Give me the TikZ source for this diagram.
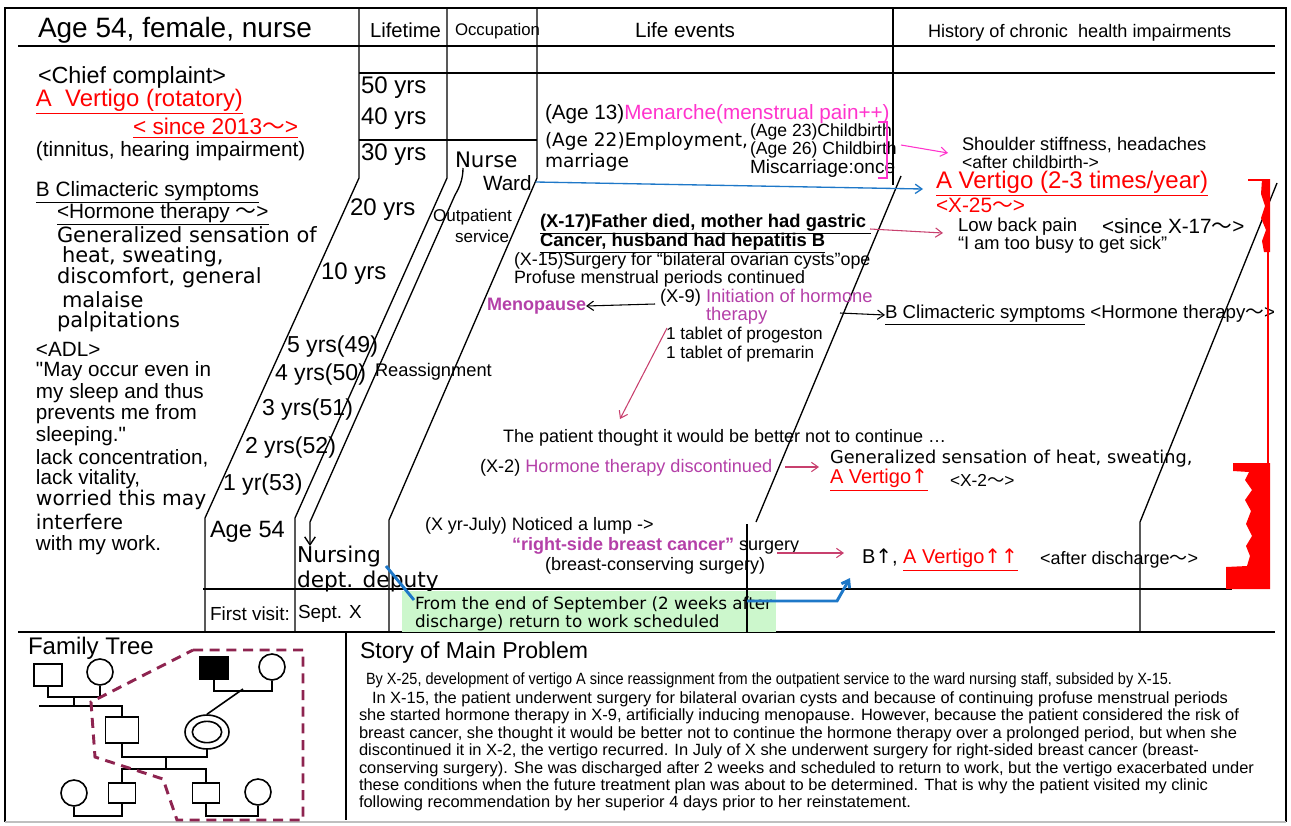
\documentclass[tikz,border=0pt]{standalone}
\usepackage{fontspec}
\setmainfont{Liberation Sans}
\newfontfamily\dv{DejaVu Sans}
\newfontfamily\cjk{Noto Sans CJK JP}
\usepackage{graphicx}
\usetikzlibrary{arrows.meta,shapes.geometric}
\newdimen\pxu \pxu=0.75pt
\newcommand\fs[1]{\fontsize{#1pt}{#1pt}\selectfont}
\newcommand\wv{{\cjk ～}}
\newcommand\uparr{{\dv ↑}}
\newcommand\fitw[2]{\resizebox{#1\pxu}{\height}{#2}}
\definecolor{vred}{HTML}{FF0000}
\definecolor{pinkm}{HTML}{FF33CC}
\definecolor{purp}{HTML}{B440A8}
\definecolor{crim}{HTML}{C8406E}
\definecolor{blu}{HTML}{1E78C8}
\definecolor{grn}{HTML}{CCF7CC}
\definecolor{maroonc}{HTML}{8E2450}
\begin{document}
\begin{tikzpicture}[x=0.75pt,y=-0.75pt,line width=1pt,
  tx/.style={anchor=west,inner sep=0pt,outer sep=0pt,yshift=-1.5pt},
  barb/.style={-{Straight Barb[length=5pt,width=7pt]}},
  crimarr/.style={crim,line width=0.8pt,barb},
  blkarr/.style={black,line width=0.8pt,barb},
  ft/.style={line width=1.2pt},
  sq/.style={draw,line width=1.2pt,rectangle,inner sep=0pt},
  ci/.style={draw,line width=1.2pt,circle,inner sep=0pt,minimum size=19.5pt}]
\useasboundingbox (0,0) rectangle (1291,825);
% frame
\draw[line width=1.8pt] (5,822) -- (5,8) -- (1286,8) -- (1286,822);
\draw[line width=1.8pt,gray!50] (5,822) -- (1286,822);
% header
\draw (18,46) -- (1275,46);
\draw (359,73) -- (1275,73);
\draw (359,140) -- (537,140);
\node[tx,font=\fs{21}] (title) at (38,28) {Age 54, female, nurse};
\node[tx,font=\fs{15.2}] (hlife) at (370,28) {Lifetime};
\node[tx,font=\fs{12.6}] (hocc) at (455,29) {Occupation};
\node[tx,font=\fs{15.5}] (hev) at (635,28) {Life events};
\node[tx,font=\fs{13.6}] (hhist) at (928,31) {History of chronic\ \ health impairments};
% column borders
\draw (359,8) -- (359,178) -- (205,518) -- (205,632);
\draw (447,8) -- (447,178) -- (295,518) -- (295,632);
\draw (537,8) -- (537,178) -- (389,520) -- (389,632);
\draw (893,8) -- (893,185);
\draw (901,176) -- (756,522);
\draw (747,524) -- (747,632);
\draw (1277,183) -- (1140,522) -- (1140,632);
\draw (203,589) -- (1232,589);
\draw (18,632) -- (1275,632);
\draw (346,632) -- (346,820);
% nurse arrow
\draw[-{Straight Barb[length=6pt,width=8pt]}] (463,168) .. controls (463,180) and (459,188) .. (455,195) -- (310,522) -- (310,546);
% left column
\node[tx,font=\fs{17.5}] (cc) at (38,75) {<Chief complaint>};
\node[tx,font=\fs{17.9},vred] (av) at (36,100) {\underline{A\ \ Vertigo (rotatory)}};
\node[tx,font=\fs{17},vred] (since) at (133,126) {\underline{< since 2013\wv>}};
\node[tx,font=\fs{15.6}] (tin) at (36,149) {(tinnitus, hearing impairment)};
\node[tx,font=\fs{15.6}] (bcl) at (36,190) {\underline{B Climacteric symptoms}};
\node[tx,font=\fs{15.6}] (hth) at (57,212) {\underline{<Hormone therapy \wv>}};
\node[tx,font=\dv\fs{15.7}] (g1) at (57,233) {Generalized sensation of};
\node[tx,font=\dv\fs{15.7}] (g2) at (62,255) {heat, sweating,};
\node[tx,font=\dv\fs{15.7}] (g3) at (57,276) {discomfort, general};
\node[tx,font=\dv\fs{15.7}] (g4) at (62,298) {malaise};
\node[tx,font=\dv\fs{15.7}] (g5) at (57,320) {palpitations};
\node[tx,font=\fs{15.5}] (adl) at (36,347) {<ADL>};
\node[tx,font=\fs{15.5}] (a1) at (36,369) {\textquotedbl May occur even in};
\node[tx,font=\fs{15.5}] (a2) at (36,391) {my sleep and thus};
\node[tx,font=\fs{15.5}] (a3) at (36,412) {prevents me from};
\node[tx,font=\fs{15.5}] (a4) at (36,434) {sleeping.\textquotedbl};
\node[tx,font=\fs{15.5}] (a5) at (36,456) {lack concentration,};
\node[tx,font=\fs{15.5}] (a6) at (36,477) {lack vitality,};
\node[tx,font=\dv\fs{15.2}] (a7) at (36,498) {worried this may};
\node[tx,font=\dv\fs{15.2}] (a8) at (36,520) {interfere};
\node[tx,font=\fs{15.5}] (a9) at (36,543) {with my work.};
% lifetime
\node[tx,font=\fs{18}] (y50) at (361,86) {50 yrs};
\node[tx,font=\fs{18}] (y40) at (361,117) {40 yrs};
\node[tx,font=\fs{18}] (y30) at (361,153) {30 yrs};
\node[tx,font=\fs{18}] (y20) at (350,208) {20 yrs};
\node[tx,font=\fs{18}] (y10) at (321,272) {10 yrs};
\node[tx,font=\fs{17.3}] (y5) at (287,345) {5 yrs(49)};
\node[tx,font=\fs{17.3}] (y4) at (275,373) {4 yrs(50)};
\node[tx,font=\fs{17.3}] (y3) at (262,408) {3 yrs(51)};
\node[tx,font=\fs{17.3}] (y2) at (245,446) {2 yrs(52)};
\node[tx,font=\fs{17.3}] (y1) at (223,483) {1 yr(53)};
\node[tx,font=\fs{17.7}] (age) at (210,530) {Age 54};
\node[tx,font=\fs{14.2}] (fv) at (210,612) {First visit:};
\node[tx,font=\fs{14.2}] (sept) at (298,612) {Sept. X};
% occupation
\node[tx,font=\dv\fs{16}] (nurse) at (455,158) {Nurse};
\node[tx,font=\fs{15.5}] (ward) at (483,181) {Ward};
\node[tx,font=\fs{12.8}] (outp) at (433,215) {Outpatient};
\node[tx,font=\fs{12.8}] (serv) at (455,234) {service};
\node[tx,font=\fs{13.7}] (reas) at (375,370) {Reassignment};
\node[tx,font=\dv\fs{16.3}] (nursing) at (297,554) {Nursing};
\node[tx,font=\dv\fs{16.3}] (deputy) at (297,579) {dept. deputy};
% life events
\node[tx,font=\fs{15.5}] (e13) at (545,112) {(Age 13)\textcolor{pinkm}{Menarche(menstrual pain++)}};
\node[tx,font=\dv\fs{13.9}] (e22) at (545,139) {(Age 22)Employment,};
\node[tx,font=\dv\fs{13.9}] (emar) at (545,160) {marriage};
\node[tx,font=\fs{13.2}] (e23) at (750,130) {(Age 23)Childbirth};
\node[tx,font=\fs{13.2}] (e26) at (750,148) {(Age 26) Childbirth};
\node[tx,font=\fs{14.3}] (emis) at (750,167) {Miscarriage:once};
\draw[pinkm,line width=1pt] (878,122) -- (887,122) -- (887,178) -- (878,178);
\coordinate (brk) at (901,145);
\node[tx,font=\fs{13.7}] (sh1) at (962,143) {Shoulder stiffness, headaches};
\node[tx,font=\fs{13.2}] (sh2) at (962,160) {<after childbirth->};
\draw[pinkm,line width=0.8pt,barb] (brk) -- (948,153);
\node[tx,font=\fs{18},vred] (vert2) at (936,182) {\underline{A Vertigo (2-3 times/year)}};
\node[tx,font=\fs{15.6},vred] (x25) at (936,203) {<X-25\wv>};
\draw[blu,line width=1pt,barb] (ward.east) ++(4,-1) -- (923,189);
\node[tx,font=\bfseries\fs{13.8}] (f1) at (540,222) {\underline{(X-17)Father died, mother had gastric }};
\node[tx,font=\bfseries\fs{13.8}] (f2) at (540,241) {\underline{Cancer, husband had hepatitis B}};
\node[tx,font=\fs{14}] (lbp) at (958,225) {Low back pain};
\node[tx,font=\fs{15.5}] (s17) at (1102,224) {<since X-17\wv>};
\node[tx,font=\fs{13.7}] (busy) at (958,243) {“I am too busy to get sick”};
\draw[crimarr] (870,229) -- (943,233);
\node[tx,font=\fs{13.4}] (x15) at (514,259) {(X-15)Surgery for “bilateral ovarian cysts”ope};
\node[tx,font=\fs{13.4}] (prof) at (514,277) {Profuse menstrual periods continued};
\node[tx,font=\bfseries\fs{13.5},purp] (meno) at (487,304) {Menopause};
\node[tx,font=\fs{13.8}] (x9) at (660,296) {(X-9) \textcolor{purp}{Initiation of hormone}};
\node[tx,font=\fs{13.8},purp] (x9b) at (706,314) {therapy};
\draw[blkarr] (655,304) -- (meno.east);
\node[tx,font=\fs{14}] (bcl2) at (885,313) {\underline{B Climacteric symptoms} <Hormone therapy\wv>};
\draw[blkarr] (840,313) -- (bcl2.west);
\node[tx,font=\fs{12.9}] (tab1) at (666,333) {1 tablet of progeston};
\node[tx,font=\fs{12.9}] (tab2) at (666,352) {1 tablet of premarin};
\node[tx,font=\fs{13.5}] (thought) at (503,436) {The patient thought it would be better not to continue …};
\draw[crimarr] (667,328) -- (620,419);
\node[tx,font=\fs{13.6}] (x2) at (480,466) {(X-2) \textcolor{purp}{Hormone therapy discontinued}};
\node[tx,font=\dv\fs{13.3}] (gen2) at (830,457) {Generalized sensation of heat, sweating,};
\node[tx,font=\fs{15},vred] (av2) at (830,478) {\underline{A Vertigo\uparr}};
\node[tx,font=\fs{13}] (x2b) at (950,478) {<X-2\wv>};
\draw[crimarr] (785,467) -- (819,467);
\node[tx,font=\fs{13.5}] (lump) at (425,524) {(X yr-July) Noticed a lump ->};
\node[tx,font=\fs{13.5}] (rbc) at (512,544) {\textcolor{purp}{\bfseries “right-side breast cancer”} surgery};
\node[tx,font=\fs{13.5}] (bcs) at (545,564) {(breast-conserving surgery)};
\node[tx,font=\fs{15}] (bup) at (862,558) {B\uparr, \textcolor{vred}{\underline{A Vertigo\uparr\uparr}}};
\node[tx,font=\fs{13.5}] (adis) at (1040,558) {<after discharge\wv>};
\draw[crimarr] (777,553) -- (844,553);
% green box
\fill[grn] (402,591) rectangle (776,632);
\node[tx,font=\dv\fs{12.6}] (gb1) at (415,603) {From the end of September (2 weeks after};
\node[tx,font=\dv\fs{12.6}] (gb2) at (415,621) {discharge) return to work scheduled};
\draw (747,589) -- (747,632);
\draw[blu,line width=2.2pt] (386,566) -- (414,600);
\draw[blu,line width=2.2pt,-{Straight Barb[length=5pt,width=7pt]}] (747,601) -- (837,601) -- (850,578);
% red graph
\fill[vred] (1262,179) -- (1270,179) -- (1270,252) -- (1264,252) -- (1262,241) -- (1266,230) -- (1261,218) -- (1265,206) -- (1261,194) -- cycle;
\draw[vred,line width=1.5pt] (1248,180) -- (1266,180);
\draw[vred,line width=1.5pt] (1268,250) -- (1268,465);
\fill[vred] (1233,463) -- (1270,463) -- (1270,589) -- (1226,589) -- (1226,567) -- (1247,566) -- (1250,556) -- (1246,546) -- (1252,536) -- (1246,524) -- (1251,511) -- (1245,500) -- (1252,490) -- (1245,480) -- (1249,472) -- (1233,471) -- cycle;
% family tree
\node[tx,font=\fs{18}] (ftt) at (28,646) {Family Tree};
\node[sq,minimum width=21pt,minimum height=16.5pt] (gf1) at (48,675) {};
\node[ci] (gm1) at (100,672) {};
\node[sq,minimum width=21pt,minimum height=16.5pt,fill=black] (gf2) at (214,668) {};
\node[ci] (gm2) at (272,667) {};
\node[sq,minimum width=24.75pt,minimum height=19.5pt] (hus) at (122,730) {};
\node[draw,ellipse,line width=1.2pt,minimum width=33pt,minimum height=25.5pt,inner sep=0pt] (pt) at (207,732) {};
\node[draw,ellipse,line width=1.2pt,minimum width=22pt,minimum height=16pt,inner sep=0pt] (ptin) at (207,732) {};
\node[ci] (c1) at (74,793) {};
\node[sq,minimum width=20pt,minimum height=15pt] (c2) at (122,793) {};
\node[sq,minimum width=20pt,minimum height=15pt] (c3) at (206,793) {};
\node[ci] (c4) at (258,792) {};
\draw[ft] (gf1.south) -- ++(0,10) -| (gm1.south);
\draw[ft] (74,696) -- (74,706);
\draw[ft] (39,706) -- (122,706) -- (hus.north);
\draw[ft] (gf2.south) -- ++(0,11) -| (gm2.south);
\draw[ft] (243,689) -- (pt.north);
\draw[ft] (hus.south) -- ++(0,13) -| (pt.south);
\draw[ft] (166,756) -- (166,770);
\draw[ft] (c2.north) -- ++(0,-13) -| (c3.north);
\draw[ft] (c1.south) -- ++(0,9) -| (c2.south);
\draw[ft] (c3.south) -- ++(0,12) -| (c4.south);
\draw[maroonc,line width=2.2pt,dash pattern=on 7.5pt off 5pt] (193,650) -- (303,650) -- (303,820) -- (177,820) -- (163,779) -- (95,757) -- (91,702) -- cycle;
% story
\node[tx,font=\fs{17.3}] (story) at (360,651) {Story of Main Problem};
\node[tx,font=\fs{12.2}] (s1) at (366,678) {\fitw{806}{By X-25, development of vertigo A since reassignment from the outpatient service to the ward nursing staff, subsided by X-15.}};
\node[tx,font=\fs{12.2}] (s2) at (372,697) {\fitw{856}{In X-15, the patient underwent surgery for bilateral ovarian cysts and because of continuing profuse menstrual periods}};
\node[tx,font=\fs{12.2}] (s3) at (359,714) {\fitw{880}{she started hormone therapy in X-9, artificially inducing menopause. However, because the patient considered the risk of}};
\node[tx,font=\fs{12.2}] (s4) at (359,732) {\fitw{878}{breast cancer, she thought it would be better not to continue the hormone therapy over a prolonged period, but when she}};
\node[tx,font=\fs{12.2}] (s5) at (359,749) {\fitw{840}{discontinued it in X-2, the vertigo recurred. In July of X she underwent surgery for right-sided breast cancer (breast-}};
\node[tx,font=\fs{12.2}] (s6) at (359,767) {\fitw{895}{conserving surgery). She was discharged after 2 weeks and scheduled to return to work, but the vertigo exacerbated under}};
\node[tx,font=\fs{12.2}] (s7) at (359,784) {\fitw{849}{these conditions when the future treatment plan was about to be determined. That is why the patient visited my clinic}};
\node[tx,font=\fs{12.2}] (s8) at (359,801) {\fitw{552}{following recommendation by her superior 4 days prior to her reinstatement.}};
\end{tikzpicture}
\end{document}
